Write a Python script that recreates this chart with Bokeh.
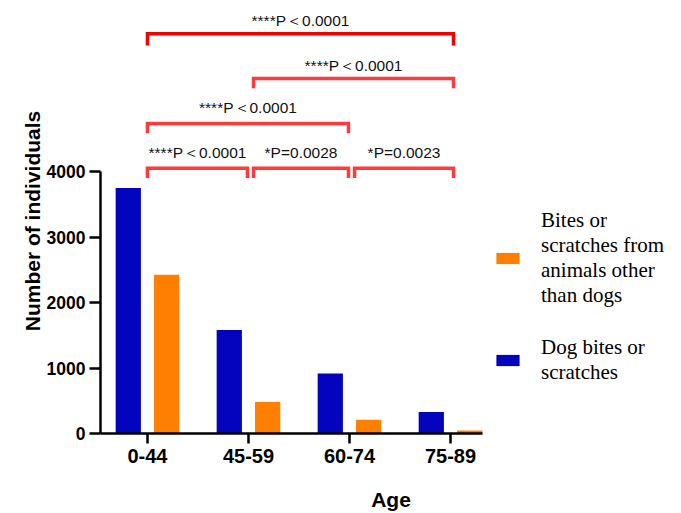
from bokeh.plotting import figure
from bokeh.models import FixedTicker, Legend, LegendItem
from bokeh.embed import file_html
from bokeh.resources import INLINE
from bokeh.core.properties import value

# ---- data ----
ages = ["0-44", "45-59", "60-74", "75-89"]
dog = [3750, 1580, 915, 330]
other = [2425, 480, 210, 45]
y_ticks = [0, 1000, 2000, 3000, 4000]
comp_from = [0, 1, 0, 0, 1, 2]
comp_to = [3, 3, 2, 1, 2, 3]
comp_label = ["****P\uff1c0.0001", "****P\uff1c0.0001", "****P\uff1c0.0001",
              "****P\uff1c0.0001", "*P=0.0028", "*P=0.0023"]
comp_level = [3, 2, 1, 0, 0, 0]

BLUE = "#0404BE"
ORANGE = "#FF7F00"
FONT = "Liberation Sans"

W, H = 681, 513
p = figure(width=W, height=H, output_backend="svg", toolbar_location=None,
           x_range=(-0.465, 5.287), y_range=(0, 6489),
           min_border_left=100, min_border_right=0, min_border_top=8,
           min_border_bottom=80)
p.outline_line_color = None
p.xgrid.visible = False
p.ygrid.visible = False
p.background_fill_color = "white"
p.border_fill_color = "white"

n = len(ages)
r_dog = p.vbar(x=[i - 0.19 for i in range(n)], width=0.25, top=dog,
               fill_color=BLUE, line_color=None)
r_other = p.vbar(x=[i + 0.19 for i in range(n)], width=0.25, top=other,
                 fill_color=ORANGE, line_color=None)

# significance brackets
base, step = 4050, 685
xs, ys, tx, ty, cols = [], [], [], [], []
for a, b, lev in zip(comp_from, comp_to, comp_level):
    x0 = a + (0.05 if a > 0 else 0.0)
    x1 = b + (0.03 if b == n - 1 else 0.0) - (0.01 if b < n - 1 else 0.0)
    yy = base + lev * step
    leg = 180 if lev == 3 else 150
    xs.append([x0, x0, x1, x1])
    ys.append([yy - leg, yy, yy, yy - leg])
    tx.append((x0 + x1) / 2)
    ty.append(yy + (205 if lev >= 2 else 240))
    cols.append("#F20000" if lev == 3 else "#FF3A3A")
p.multi_line(xs=xs, ys=ys, line_color=cols, line_width=3.5, line_join="miter")
p.text(x=tx, y=ty, text=comp_label, text_align="center", text_baseline="middle",
       text_font=value(FONT), text_font_size="15.5px", text_color="#111111")

# axes
for ax in (p.xaxis[0], p.yaxis[0]):
    ax.axis_line_width = 2.5
    ax.axis_line_color = "black"
    ax.major_tick_line_width = 2.5
    ax.major_tick_line_color = "black"
    ax.major_tick_in = 0
    ax.minor_tick_line_color = None
    ax.major_label_text_font = FONT
    ax.major_label_text_font_style = "bold"
    ax.major_label_text_color = "black"
    ax.axis_label_text_font = FONT
    ax.axis_label_text_font_style = "bold"
    ax.axis_label_text_font_size = "21px"
    ax.axis_label_text_color = "black"

xa = p.xaxis[0]
xa.ticker = FixedTicker(ticks=list(range(n)))
xa.major_label_overrides = {i: a for i, a in enumerate(ages)}
xa.bounds = (-0.465, 3.32)
xa.major_tick_out = 10
xa.major_label_standoff = 5
xa.major_label_text_font_size = "20px"
xa.axis_label = "Age"
xa.axis_label_standoff = 22

ya = p.yaxis[0]
ya.ticker = FixedTicker(ticks=y_ticks)
ya.bounds = (0, 4000)
ya.major_tick_out = 11
ya.major_label_standoff = 4
ya.major_label_text_font_size = "17.5px"
ya.axis_label = "Number of individuals"
ya.axis_label_standoff = 0

legend = Legend(items=[
    LegendItem(label="Bites or\nscratches from\nanimals other\nthan dogs", renderers=[r_other]),
    LegendItem(label="Dog bites or\nscratches", renderers=[r_dog]),
], location=(393, 48), glyph_width=29, glyph_height=14, label_standoff=19,
    spacing=27, padding=0, margin=0, border_line_color=None,
    background_fill_alpha=0, label_text_font="Liberation Serif",
    label_text_font_size="21px", label_text_line_height=0.92,
    label_text_color="black")
p.add_layout(legend)

open("out.html", "w").write(file_html(p, INLINE))
